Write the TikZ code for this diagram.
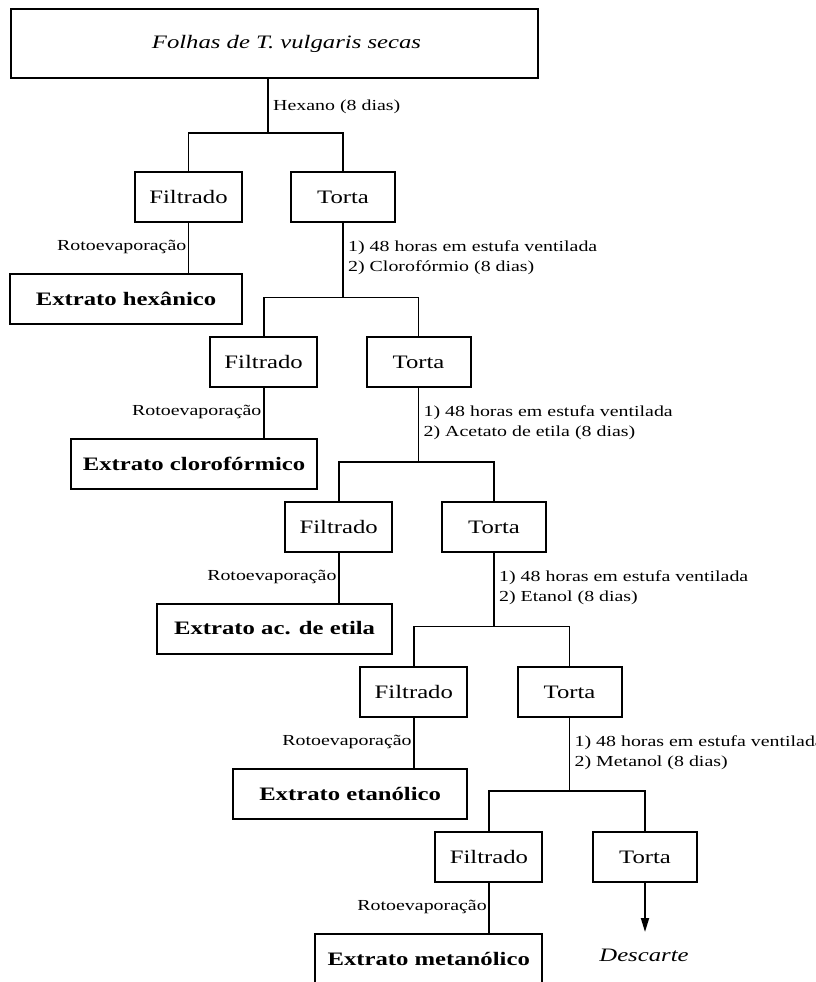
\documentclass[tikz,border=0pt]{standalone}
\usepackage{fontspec}
\setmainfont[FakeStretch=1.3]{Liberation Serif}
\usetikzlibrary{arrows.meta}
\tikzset{
  box/.style={draw, line width=2pt, inner sep=0pt, minimum height=50pt, font=\fontsize{19}{22}\selectfont},
  lbl/.style={inner sep=0pt, font=\fontsize{15.3}{18}\selectfont},
  conn/.style={line width=1.8pt},
}
\begin{document}
\begin{tikzpicture}[x=1pt,y=-1pt]
\useasboundingbox (0,0) rectangle (816,982);
\node[box, minimum width=527pt, minimum height=69pt] (top) at (274.5,43.5) {\hspace*{24pt}\itshape Folhas de T. vulgaris secas};
\foreach \k/\ext/\el in {0/Extrato hexânico/10, 1/Extrato clorofórmico/71, 2/Extrato ac. de etila/157, 3/Extrato etanólico/233, 4/Extrato metanólico/315} {
  \pgfmathsetmacro\fx{188.5+75.1*\k}
  \pgfmathsetmacro\tx{343+75.5*\k}
  \pgfmathsetmacro\yy{197+165*\k}
  \pgfmathsetmacro\by{133+164.5*\k}
  \pgfmathsetmacro\ey{298.5+165*\k}
  \pgfmathsetmacro\er{\fx+53.5}
  \pgfmathsetmacro\ew{\er-\el}
  \pgfmathsetmacro\ecx{(\er+\el)/2}
  \pgfmathsetmacro\px{ifthenelse(\k==0,268,343+75.5*(\k-1))}
  \node[box, minimum width=107pt] (f\k) at (\fx,\yy) {Filtrado};
  \node[box, minimum width=104pt] (t\k) at (\tx,\yy) {Torta};
  \node[box, minimum width=\ew pt] (e\k) at (\ecx,\ey) {\bfseries \ext};
  \coordinate (b\k) at (\px,\by);
  \draw[conn] (f\k.north) |- (b\k) -| (t\k.north);
  \draw[conn] (f\k.south) -- (e\k.north -| f\k.south);
  \node[lbl, anchor=base east] (r\k) at (\fx-2,250+165*\k) {Rotoevaporação};
}
\draw[conn] (top.south -| b0) -- (b0);
\foreach \k in {1,2,3,4} {
  \pgfmathtruncatemacro\km{\k-1}
  \draw[conn] (t\km.south) -- (b\k);
}
\node[lbl, anchor=base west] (hex) at (273,110) {Hexano (8 dias)};
\foreach \k/\solv in {0/Clorofórmio (8 dias), 1/Acetato de etila (8 dias), 2/Etanol (8 dias), 3/Metanol (8 dias)} {
  \pgfmathsetmacro\tx{343+75.5*\k}
  \node[lbl, anchor=base west] (la\k) at (\tx+5,251+165*\k) {1) 48 horas em estufa ventilada};
  \node[lbl, anchor=base west] (lb\k) at (\tx+5,271+165*\k) {2) \solv};
}
\node[inner sep=0pt, font=\fontsize{19}{22}\selectfont\itshape] (desc) at (644,955) {Descarte};
\coordinate (dend) at (t4.south |- 0,932);
\draw[conn, -{Triangle[length=14pt,width=8pt]}] (t4.south) -- (dend);
\end{tikzpicture}
\end{document}
